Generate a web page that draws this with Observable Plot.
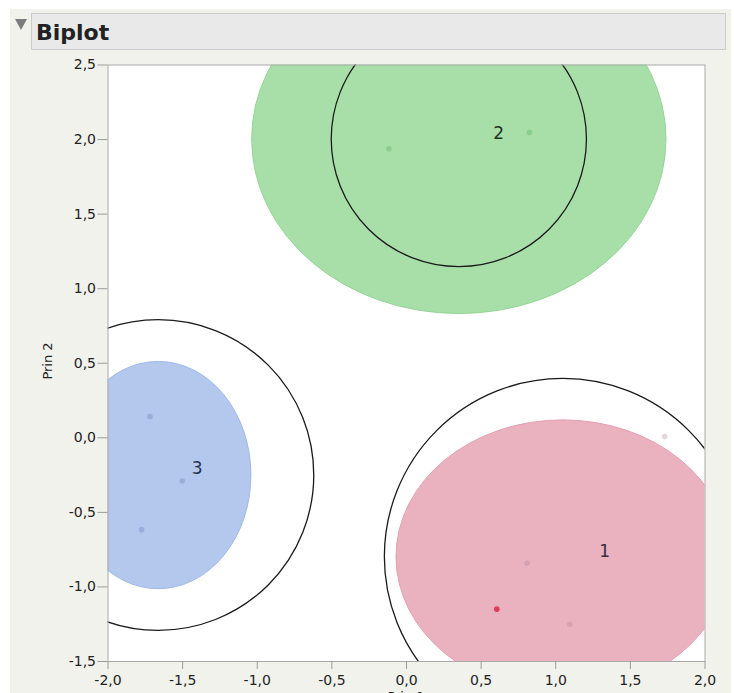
<!DOCTYPE html>
<html>
<head>
<meta charset="utf-8">
<script src="https://cdn.jsdelivr.net/npm/d3@7"></script>
<script src="https://cdn.jsdelivr.net/npm/@observablehq/plot@0.6"></script>
<style>
  html, body { margin: 0; padding: 0; background: #ffffff; }
  #wrap { position: relative; width: 734px; height: 693px; overflow: hidden; background: #ffffff; font-family: "DejaVu Sans", sans-serif; }
  #panel { position: absolute; left: 10px; top: 9px; width: 721px; height: 684px; background: #f2f2ed; }
  #chart { position: absolute; left: 0; top: 0; }
  .overlay { position: absolute; left: 0; top: 0; pointer-events: none; }
</style>
</head>
<body>
<div id="wrap">
  <div id="panel"></div>
  <svg class="overlay" width="734" height="60" style="z-index:1">
    <rect x="31.5" y="13.5" width="694" height="36" fill="#e9e9e9" stroke="#cbcbcb"/>
    <path d="M15,19 L27,19 L21,30 Z" fill="#7c7c7c"/>
    <text id="title" x="36" y="39.5" font-family="DejaVu Sans" font-weight="bold" font-size="22" fill="#222"></text>
  </svg>
  <div id="chart"></div>
  <svg class="overlay" width="734" height="693" style="z-index:2">
    <text id="ylab" transform="translate(51.5,361) rotate(-90)" text-anchor="middle" font-family="DejaVu Sans" font-size="13" fill="#222"></text>
    <text id="xlab" x="406" y="701" text-anchor="middle" font-family="DejaVu Sans" font-size="13" fill="#222"></text>
  </svg>
</div>
<script>
// ---- texts ----
const titleText = "Biplot";
const xLabel = "Prin 1";
const yLabel = "Prin 2";

// ---- cluster summaries (data units) ----
const clusters  = ["1", "2", "3"];
const centerX   = [1.05, 0.354, -1.66];
const centerY   = [-0.80, 2.00, -0.253];
const ellipseRx = [1.117, 1.388, 0.621];
const ellipseRy = [0.917, 1.170, 0.762];
const circleR   = [1.195, 0.855, 1.042];
const labelX    = [1.328, 0.618, -1.402];
const labelY    = [-0.766, 2.043, -0.208];

// ---- observations ----
const pointCluster = ["1", "1", "1", "1", "2", "2", "3", "3", "3"];
const pointState   = ["normal", "selected", "normal", "faded", "normal", "normal", "normal", "normal", "normal"];
const pointX = [0.808, 0.605, 1.094, 1.730, -0.118, 0.824, -1.719, -1.502, -1.775];
const pointY = [-0.841, -1.149, -1.250, 0.009, 1.938, 2.048, 0.143, -0.290, -0.616];

// ---- ticks ----
const xTicks = [-2, -1.5, -1, -0.5, 0, 0.5, 1, 1.5, 2];
const xTickLabels = ["-2,0", "-1,5", "-1,0", "-0,5", "0,0", "0,5", "1,0", "1,5", "2,0"];
const yTicks = [-1.5, -1, -0.5, 0, 0.5, 1, 1.5, 2, 2.5];
const yTickLabels = ["-1,5", "-1,0", "-0,5", "0,0", "0,5", "1,0", "1,5", "2,0", "2,5"];

// ---- styles ----
const ellipseFill   = {"1": "#eab2bf", "2": "#a8dfa9", "3": "#b3c8ec"};
const ellipseStroke = {"1": "#e49fb0", "2": "#94d596", "3": "#9fb8ea"};
const labelColor    = {"1": "#352c40", "2": "#1f331f", "3": "#25304f"};
const pointColor = {
  "1": {normal: "#d6a1b0", selected: "#df3f5e", faded: "#e4d8db"},
  "2": {normal: "#8ccd8e"},
  "3": {normal: "#98afdc"}
};

document.getElementById("title").textContent = titleText;
document.getElementById("xlab").textContent = xLabel;
document.getElementById("ylab").textContent = yLabel;

const ns = "http://www.w3.org/2000/svg";
function clipGroup(dims) {
  const g = document.createElementNS(ns, "g");
  const defs = document.createElementNS(ns, "defs");
  const cp = document.createElementNS(ns, "clipPath");
  const id = "frameclip" + Math.random().toString(36).slice(2);
  cp.setAttribute("id", id);
  const r = document.createElementNS(ns, "rect");
  r.setAttribute("x", dims.marginLeft);
  r.setAttribute("y", dims.marginTop);
  r.setAttribute("width", dims.width - dims.marginLeft - dims.marginRight);
  r.setAttribute("height", dims.height - dims.marginTop - dims.marginBottom);
  cp.appendChild(r); defs.appendChild(cp); g.appendChild(defs);
  g.setAttribute("clip-path", `url(#${id})`);
  return g;
}

// density ellipses drawn through the plot's x/y scales
function ellipseMark(index, scales, values, dims) {
  const {x, y} = scales;
  const g = clipGroup(dims);
  clusters.forEach((c, i) => {
    const e = document.createElementNS(ns, "ellipse");
    e.setAttribute("cx", x(centerX[i]));
    e.setAttribute("cy", y(centerY[i]));
    e.setAttribute("rx", Math.abs(x(centerX[i] + ellipseRx[i]) - x(centerX[i])));
    e.setAttribute("ry", Math.abs(y(centerY[i] + ellipseRy[i]) - y(centerY[i])));
    e.setAttribute("fill", ellipseFill[c]);
    e.setAttribute("stroke", ellipseStroke[c]);
    e.setAttribute("stroke-width", 1);
    g.appendChild(e);
  });
  return g;
}

// cluster circles
function circleMark(index, scales, values, dims) {
  const {x, y} = scales;
  const g = clipGroup(dims);
  clusters.forEach((c, i) => {
    const e = document.createElementNS(ns, "ellipse");
    e.setAttribute("cx", x(centerX[i]));
    e.setAttribute("cy", y(centerY[i]));
    e.setAttribute("rx", Math.abs(x(centerX[i] + circleR[i]) - x(centerX[i])));
    e.setAttribute("ry", Math.abs(y(centerY[i] + circleR[i]) - y(centerY[i])));
    e.setAttribute("fill", "none");
    e.setAttribute("stroke", "#1a1a1a");
    e.setAttribute("stroke-width", 1.3);
    g.appendChild(e);
  });
  return g;
}

const pointIdx = d3.range(pointX.length);

const chart = Plot.plot({
  width: 734,
  height: 693,
  marginLeft: 107.5,
  marginRight: 29.5,
  marginTop: 64.5,
  marginBottom: 32,
  x: {domain: [-2, 2]},
  y: {domain: [-1.5, 2.5]},
  style: {background: "transparent", fontFamily: "DejaVu Sans", fontSize: "14px", color: "#222", overflow: "visible"},
  marks: [
    Plot.frame({fill: "white", stroke: null}),
    ellipseMark,
    circleMark,
    Plot.dot(pointIdx, {
      x: i => pointX[i],
      y: i => pointY[i],
      r: 2.8,
      fill: i => pointColor[pointCluster[i]][pointState[i]],
      stroke: null
    }),
    Plot.text(clusters, {
      x: (d, i) => labelX[i],
      y: (d, i) => labelY[i],
      text: d => d,
      fill: d => labelColor[d],
      fontSize: 17
    }),
    Plot.frame({stroke: "#a9a9a9"}),
    Plot.axisX({
      ticks: xTicks,
      tickFormat: d => xTickLabels[xTicks.indexOf(d)],
      tickSize: 8,
      tickPadding: 6,
      stroke: "#9a9a9a",
      fill: "#222",
      label: null
    }),
    Plot.axisY({
      ticks: yTicks,
      tickFormat: d => yTickLabels[yTicks.indexOf(d)],
      tickSize: 10,
      tickPadding: 2,
      stroke: "#9a9a9a",
      fill: "#222",
      label: null
    })
  ]
});
document.getElementById("chart").appendChild(chart);
</script>
</body>
</html>
